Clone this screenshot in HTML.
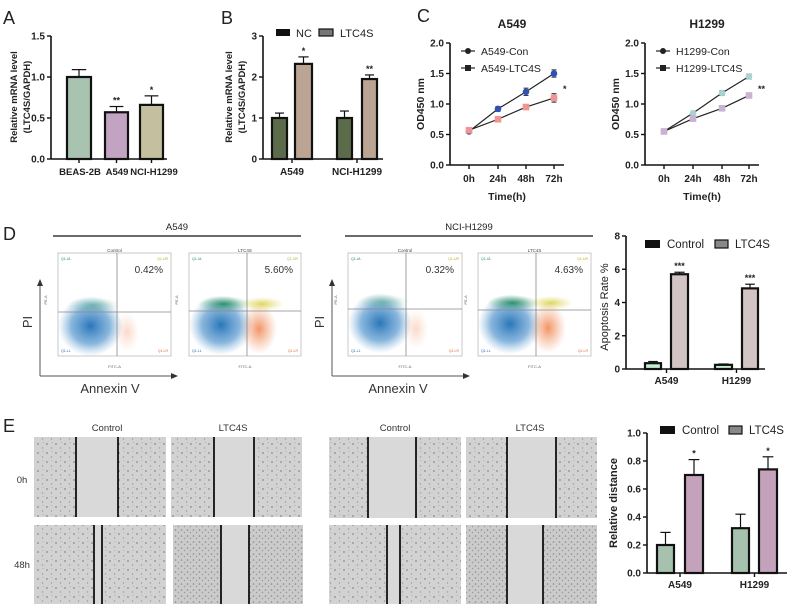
<!DOCTYPE html>
<html><head><meta charset="utf-8">
<style>
html,body{margin:0;padding:0;background:#fff;}
svg{display:block;font-family:"Liberation Sans",Arial,sans-serif;}
</style></head>
<body>
<svg id="fig" width="789" height="606" viewBox="0 0 789 606" xmlns="http://www.w3.org/2000/svg">
<defs>
<radialGradient id="blueCloud"><stop offset="0" stop-color="#1f6fb5" stop-opacity="0.95"/><stop offset="0.6" stop-color="#3b86c6" stop-opacity="0.6"/><stop offset="1" stop-color="#6aa6d8" stop-opacity="0"/></radialGradient>
<radialGradient id="greenCloud"><stop offset="0" stop-color="#1e8a5a" stop-opacity="0.9"/><stop offset="1" stop-color="#50a878" stop-opacity="0"/></radialGradient>
<radialGradient id="yellowCloud"><stop offset="0" stop-color="#d8d040" stop-opacity="0.85"/><stop offset="1" stop-color="#e0d860" stop-opacity="0"/></radialGradient>
<radialGradient id="orangeCloud"><stop offset="0" stop-color="#f07a40" stop-opacity="0.8"/><stop offset="1" stop-color="#f09060" stop-opacity="0"/></radialGradient>
<pattern id="cells" width="9" height="9" patternUnits="userSpaceOnUse"><rect width="9" height="9" fill="#d2d2d2"/><circle cx="2" cy="3" r="0.9" fill="#8a8a8a"/><circle cx="6.5" cy="7" r="0.7" fill="#9a9a9a"/><circle cx="7" cy="1.5" r="0.5" fill="#a5a5a5"/></pattern>
<pattern id="cellsDense" width="6" height="6" patternUnits="userSpaceOnUse"><rect width="6" height="6" fill="#cbcbcb"/><circle cx="1.5" cy="2" r="0.8" fill="#888"/><circle cx="4.5" cy="4.5" r="0.7" fill="#999"/></pattern>
</defs>
<g id="root"></g>
</svg>
<script>
// ---------- DATA ----------
const aCats = ["BEAS-2B","A549","NCI-H1299"];
const aVals = [1.0, 0.57, 0.66];
const aErr = [0.09, 0.07, 0.11];
const aSig = ["", "**", "*"];
const aTicks = ["0.0","0.5","1.0","1.5"];

const bCats = ["A549","NCI-H1299"];
const bNC = [1.0, 1.0];
const bNCerr = [0.12, 0.17];
const bLTC = [2.32, 1.95];
const bLTCerr = [0.17, 0.1];
const bSig = ["*","**"];
const bTicks = ["0","1","2","3"];

const cTimes = ["0h","24h","48h","72h"];
const cA549Con = [0.55, 0.92, 1.2, 1.5];
const cA549ConErr = [0.03, 0.04, 0.06, 0.06];
const cA549LTC = [0.57, 0.75, 0.95, 1.1];
const cA549LTCErr = [0.02, 0.02, 0.04, 0.07];
const cH1299Con = [0.55, 0.85, 1.18, 1.45];
const cH1299ConErr = [0.02, 0.03, 0.04, 0.04];
const cH1299LTC = [0.55, 0.76, 0.93, 1.14];
const cH1299LTCErr = [0.02, 0.02, 0.04, 0.03];
const cTicks = ["0.0","0.5","1.0","1.5","2.0"];

const dCats = ["A549","H1299"];
const dCtrl = [0.35, 0.25];
const dCtrlErr = [0.1, 0.05];
const dLTC = [5.7, 4.85];
const dLTCErr = [0.12, 0.25];
const dTicks = ["0","2","4","6","8"];
const flowLabels = ["0.42%","5.60%","0.32%","4.63%"];

const eCats = ["A549","H1299"];
const eCtrl = [0.2, 0.32];
const eCtrlErr = [0.09, 0.1];
const eLTC = [0.7, 0.74];
const eLTCErr = [0.11, 0.09];
const eTicks = ["0.0","0.2","0.4","0.6","0.8","1.0"];

// ---------- HELPERS ----------
const NS = "http://www.w3.org/2000/svg";
const root = document.getElementById("root");
function el(tag, attrs, parent, text){
  const e = document.createElementNS(NS, tag);
  for (const k in attrs) e.setAttribute(k, attrs[k]);
  if (text !== undefined) e.textContent = text;
  (parent || root).appendChild(e);
  return e;
}
function txt(x,y,s,size,opts,parent){
  const o = Object.assign({x:x,y:y,"font-size":size,fill:"#222"}, opts||{});
  return el("text", o, parent, s);
}
function linY(v0,v1,p0,p1){ return v => p0 + (v-v0)/(v1-v0)*(p1-p0); }

function yAxis(g, x, yFn, ticks, vals, size){
  const ax = el("line",{x1:x,y1:yFn(vals[vals.length-1]),x2:x,y2:yFn(vals[0]),stroke:"#111","stroke-width":1.6},g);
  
  
  ticks.forEach((t,i)=>{
    const y = yFn(vals[i]);
    el("line",{x1:x-4,y1:y,x2:x,y2:y,stroke:"#111","stroke-width":1.4},g);
    const tl = txt(x-6,y+3.5,t,size,{"text-anchor":"end","font-weight":"bold"},g);
    
    
  });
}
function bar(g, x0, x1, v, err, yFn, fill, sig){
  const y = yFn(v), y0 = yFn(0);
  const r = el("rect",{x:x0,y:y,width:x1-x0,height:y0-y,fill:fill,stroke:"#111","stroke-width":2.2},g);
  
  
  const cx = (x0+x1)/2, ye = yFn(v+err), w=(x1-x0)*0.3;
  el("line",{x1:cx,y1:y,x2:cx,y2:ye,stroke:"#111","stroke-width":1.2},g);
  el("line",{x1:cx-w,y1:ye,x2:cx+w,y2:ye,stroke:"#111","stroke-width":1.2},g);
  if (sig){
    const s = txt(cx,ye-3,sig,9,{"text-anchor":"middle","font-weight":"bold"},g);
    
    
  }
}
function rotText(x,y,s,size,opts,g){
  return txt(0,0,s,size,Object.assign({"text-anchor":"middle",transform:`translate(${x},${y}) rotate(-90)`},opts||{}),g);
}

// ---------- PANEL A ----------
(function(){
  const g = el("g",{});  
  txt(3,24,"A",18,{fill:"#222"},g);
  const yF = linY(0,1.5,159,36);
  yAxis(g,51,yF,aTicks,[0,0.5,1.0,1.5],10);
  el("line",{x1:51,y1:159,x2:167,y2:159,stroke:"#111","stroke-width":1.6},g);
  const xs = [[67,91],[105,128],[140,163]];
  const cols = ["#a8c3b0","#c2a3c2","#c3bf9f"];
  const lx = [80,117,154];
  aCats.forEach((c,i)=>{
    bar(g,xs[i][0],xs[i][1],aVals[i],aErr[i],yF,cols[i],aSig[i]);
    const cx=(xs[i][0]+xs[i][1])/2;
    el("line",{x1:cx,y1:159,x2:cx,y2:163,stroke:"#111","stroke-width":1.4},g);
    const l = txt(lx[i],175,c,9.5,{"text-anchor":"middle","font-weight":"bold"},g);
     
  });
  const t1 = rotText(17,97,"Relative mRNA level",9.5,{"font-weight":"bold"},g);
   
  rotText(30,97,"(LTC4S/GAPDH)",9.5,{"font-weight":"bold"},g);
})();

// ---------- PANEL B ----------
(function(){
  const g = el("g",{});  
  txt(221,24,"B",18,{},g);
  const yF = linY(0,3,159,36);
  yAxis(g,263,yF,bTicks,[0,1,2,3],10);
  el("line",{x1:263,y1:159,x2:383,y2:159,stroke:"#111","stroke-width":1.6},g);
  const nx=[[272,287],[337,352]], lx=[[295,312],[362,377]];
  bCats.forEach((c,i)=>{
    bar(g,nx[i][0],nx[i][1],bNC[i],bNCerr[i],yF,"#5c6c4b","");
    bar(g,lx[i][0],lx[i][1],bLTC[i],bLTCerr[i],yF,"#bba494",bSig[i]);
    const cx=(nx[i][0]+lx[i][1])/2;
    el("line",{x1:cx,y1:159,x2:cx,y2:163,stroke:"#111","stroke-width":1.4},g);
    const l = txt(cx,175,c,10,{"text-anchor":"middle","font-weight":"bold"},g);
     
  });
  const lg = el("g",{},g);  
  el("rect",{x:276,y:29,width:14,height:7,fill:"#111"},lg);
  txt(296,37,"NC",11,{},lg);
  el("rect",{x:319,y:29,width:14,height:7,fill:"#777",stroke:"#111","stroke-width":1.2},lg);
  txt(340,37,"LTC4S",11,{},lg);
  const t=rotText(232,97,"Relative mRNA level",9.5,{"font-weight":"bold"},g);
   
  rotText(245,97,"(LTC4S/GAPDH)",9.5,{"font-weight":"bold"},g);
})();

// ---------- PANEL C ----------
function lineChart(axX, tickXs, title, titleX, s1, e1, s2, e2, c1, c2, n1, n2, star, starY){
  const g = el("g",{});  
  const yF = linY(0,2,165,43);
  yAxis(g,axX,yF,cTicks,[0,0.5,1,1.5,2],10);
  el("line",{x1:axX,y1:165,x2:tickXs[3]+10,y2:165,stroke:"#111","stroke-width":1.6},g);
  cTimes.forEach((t,i)=>{
    el("line",{x1:tickXs[i],y1:165,x2:tickXs[i],y2:169,stroke:"#111","stroke-width":1.4},g);
    const l=txt(tickXs[i],182,t,10,{"text-anchor":"middle","font-weight":"bold"},g);
     
  });
  const tt=txt(titleX,28,title,12,{"text-anchor":"middle","font-weight":"bold"},g);
   
  const xt=txt((axX+tickXs[3]+10)/2,200,"Time(h)",10.5,{"text-anchor":"middle","font-weight":"bold"},g);
   
  const yt=rotText(axX-26,104,"OD450 nm",10.5,{"font-weight":"bold"},g);
   
  [[s1,e1,c1,"circle","series-con"],[s2,e2,c2,"square","series-ltc4s"]].forEach(([s,e,c,shape,nm])=>{
    const pts = s.map((v,i)=>tickXs[i]+","+yF(v)).join(" ");
    const pl = el("polyline",{points:pts,fill:"none",stroke:"#222","stroke-width":1.2},g);
     
    s.forEach((v,i)=>{
      const x=tickXs[i], y=yF(v);
      el("line",{x1:x,y1:yF(v-e[i]),x2:x,y2:yF(v+e[i]),stroke:"#333","stroke-width":1},g);
      el("line",{x1:x-2.5,y1:yF(v+e[i]),x2:x+2.5,y2:yF(v+e[i]),stroke:"#333","stroke-width":1},g);
      el("line",{x1:x-2.5,y1:yF(v-e[i]),x2:x+2.5,y2:yF(v-e[i]),stroke:"#333","stroke-width":1},g);
      const m = shape==="circle" ? el("circle",{cx:x,cy:y,r:3.3,fill:c},g) : el("rect",{x:x-3.3,y:y-3.3,width:6.6,height:6.6,fill:c},g);
       
    });
  });
  const lg=el("g",{},g);  
  const lx=axX+11;
  el("line",{x1:lx,y1:51,x2:lx+14,y2:51,stroke:"#222","stroke-width":1.2},lg);
  el("circle",{cx:lx+7,cy:51,r:3,fill:"#222"},lg);
  txt(lx+20,55,n1,10.5,{},lg);
  el("line",{x1:lx,y1:68,x2:lx+14,y2:68,stroke:"#222","stroke-width":1.2},lg);
  el("rect",{x:lx+4,y:65,width:6,height:6,fill:"#222"},lg);
  txt(lx+20,72,n2,10.5,{},lg);
  const st=txt(tickXs[3]+9,starY,star,9,{"font-weight":"bold"},g);
   
}
txt(417,22,"C",18,{});
lineChart(450,[469,498,526,554],"A549",512,cA549Con,cA549ConErr,cA549LTC,cA549LTCErr,"#2f50b4","#f29494","A549-Con","A549-LTC4S","*",92);
lineChart(645,[664,693,722,749],"H1299",707,cH1299Con,cH1299ConErr,cH1299LTC,cH1299LTCErr,"#a6d4d2","#c9b2d2","H1299-Con","H1299-LTC4S","**",92);

// ---------- PANEL D: flow plots ----------
txt(3,240,"D",18,{});
function header(x0,x1,label){
  el("line",{x1:x0,y1:236,x2:x1,y2:236,stroke:"#111","stroke-width":1.2});
  const t=txt((x0+x1)/2,230,label,9.5,{"text-anchor":"middle"});
   
}
header(53,301,"A549"); header(345,593,"NCI-H1299");
function flowPlot(x0,x1,qx,qy,label,pct,treated){
  const y0=253,y1=356;
  const g=el("g",{});  
  el("rect",{x:x0,y:y0,width:x1-x0,height:y1-y0,fill:"#fff",stroke:"#bbb","stroke-width":0.8},g);
  el("ellipse",{cx:x0+(qx-x0)*0.55,cy:qy+14,rx:(qx-x0)*0.55,ry:30,fill:"url(#blueCloud)"},g);
  el("ellipse",{cx:x0+(qx-x0)*0.6,cy:qy-7,rx:(qx-x0)*0.45,ry:8,fill:"url(#greenCloud)","opacity":treated?1:0.45},g);
  if(treated){
    el("ellipse",{cx:qx+15,cy:qy-7,rx:22,ry:7,fill:"url(#yellowCloud)"},g);
    el("ellipse",{cx:qx+12,cy:qy+18,rx:18,ry:25,fill:"url(#orangeCloud)"},g);
  } else {
    el("ellipse",{cx:qx+10,cy:qy+20,rx:12,ry:20,fill:"url(#orangeCloud)",opacity:0.35},g);
  }
  el("line",{x1:qx,y1:y0,x2:qx,y2:y1,stroke:"#888","stroke-width":0.8},g);
  el("line",{x1:x0,y1:qy,x2:x1,y2:qy,stroke:"#888","stroke-width":0.8},g);
  txt((x0+x1)/2,252,label,4.5,{"text-anchor":"middle","fill":"#444"},g);
  txt(x0+3,260,"Q1-UL",3.5,{"fill":"#2a8a5a"},g);
  txt(x1-3,260,"Q1-UR",3.5,{"fill":"#b8b030","text-anchor":"end"},g);
  txt(x0+3,352,"Q1-LL",3.5,{"fill":"#2a70b0"},g);
  txt(x1-3,352,"Q1-LR",3.5,{"fill":"#e07040","text-anchor":"end"},g);
  const p=txt(x1-8,273,pct,10,{"text-anchor":"end","fill":"#333"},g);
   
  txt((x0+x1)/2,368,"FITC-A",4,{"text-anchor":"middle","fill":"#666"},g);
  rotText(x0-11,300,"PE-A",4,{"fill":"#666"},g);
}
flowPlot(58,171,117,312,"Control",flowLabels[0],false);
flowPlot(189,301,247,311,"LTC4S",flowLabels[1],true);
flowPlot(348,462,406,309,"Control",flowLabels[2],false);
flowPlot(478,591,536,310,"LTC4S",flowLabels[3],true);
function arrows(ax,ex,cx){
  el("line",{x1:ax,y1:376,x2:ax,y2:285,stroke:"#555","stroke-width":1});
  el("polygon",{points:`${ax-3},286 ${ax+3},286 ${ax},279`,fill:"#333"});
  el("line",{x1:ax,y1:376,x2:ex,y2:376,stroke:"#555","stroke-width":1});
  el("polygon",{points:`${ex},373 ${ex},379 ${ex+7},376`,fill:"#333"});
  const p=rotText(ax-8,322,"PI",13,{"fill":"#333"});
   
  const a=txt(cx,393,"Annexin V",13,{"text-anchor":"middle","fill":"#333"});
   
}
arrows(40,171,110); arrows(332,463,398);

// ---------- grouped bar chart helper (D & E) ----------
function groupChart(opts){
  const g=el("g",{});  
  const yF=linY(0,opts.max,opts.y0,opts.yTop);
  yAxis(g,opts.ax,yF,opts.ticks,opts.tickVals,10);
  el("line",{x1:opts.ax,y1:opts.y0,x2:opts.axEnd,y2:opts.y0,stroke:"#111","stroke-width":1.6},g);
  opts.cats.forEach((c,i)=>{
    bar(g,opts.cx[i][0],opts.cx[i][1],opts.ctrl[i],opts.ctrlErr[i],yF,opts.c1,"");
    bar(g,opts.lx[i][0],opts.lx[i][1],opts.ltc[i],opts.ltcErr[i],yF,opts.c2,opts.sig);
    const cx=(opts.cx[i][0]+opts.lx[i][1])/2;
    el("line",{x1:cx,y1:opts.y0,x2:cx,y2:opts.y0+4,stroke:"#111","stroke-width":1.4},g);
    const l=txt(cx,opts.y0+15,c,10,{"text-anchor":"middle","font-weight":"bold"},g);
     
  });
  const lg=el("g",{},g);  
  el("rect",{x:opts.lg[0],y:opts.lgY-4,width:15,height:8,fill:"#111"},lg);
  txt(opts.lg[0]+22,opts.lgY+4,"Control",11.5,{},lg);
  el("rect",{x:opts.lg[1],y:opts.lgY-4,width:13,height:8,fill:"#888",stroke:"#111","stroke-width":1.2},lg);
  txt(opts.lg[1]+20,opts.lgY+4,"LTC4S",11.5,{},lg);
  const yt=rotText(opts.ytx,opts.yty,opts.ytitle,11,opts.ytBold?{"font-weight":"bold"}:{},g);
   
}
groupChart({name:"apoptosis-rate-chart",cats:dCats,ctrl:dCtrl,ctrlErr:dCtrlErr,ltc:dLTC,ltcErr:dLTCErr,
  max:8,y0:369,yTop:236,ax:626,axEnd:765,ticks:dTicks,tickVals:[0,2,4,6,8],
  cx:[[645,661],[715,732]],lx:[[671,688],[742,758]],c1:"#c6ecd2",c2:"#d3c4c4",sig:"***",
  lg:[645,715],lgY:244,ytitle:"Apoptosis Rate %",ytx:608,yty:307,ytBold:false});

// ---------- PANEL E: wound images ----------
txt(3,432,"E",18,{});
[["Control",107],["LTC4S",233],["Control",395],["LTC4S",530]].forEach(([s,x])=>{
  const t=txt(x,431,s,9.5,{"text-anchor":"middle","fill":"#333"});
   
});
const r0=txt(22,483,"0h",9.5,{"text-anchor":"middle","fill":"#333"});  
const r1=txt(22,568,"48h",9.5,{"text-anchor":"middle","fill":"#333"});  
function wound(x0,x1,y0,y1,l1,l2,dense){
  const g=el("g",{});  
  el("rect",{x:x0,y:y0,width:x1-x0,height:y1-y0,fill:dense?"url(#cellsDense)":"url(#cells)"},g);
  el("rect",{x:l1,y:y0,width:l2-l1,height:y1-y0,fill:"#d9d9d9"},g);
  el("line",{x1:l1,y1:y0,x2:l1,y2:y1,stroke:"#111","stroke-width":1.8},g);
  el("line",{x1:l2,y1:y0,x2:l2,y2:y1,stroke:"#111","stroke-width":1.8},g);
}
wound(34,166,437,517,76,118,false);
wound(171,302,437,517,214,254,false);
wound(329,461,437,518,368,416,false);
wound(466,597,437,518,507,556,false);
wound(34,166,525,604,94,102,false);
wound(173,303,525,604,221,249,true);
wound(329,461,525,604,387,400,false);
wound(466,597,525,604,507,543,true);

groupChart({name:"relative-distance-chart",cats:eCats,ctrl:eCtrl,ctrlErr:eCtrlErr,ltc:eLTC,ltcErr:eLTCErr,
  max:1,y0:573,yTop:433,ax:647,axEnd:787,ticks:eTicks,tickVals:[0,0.2,0.4,0.6,0.8,1.0],
  cx:[[657,674],[732,749]],lx:[[685,703],[759,777]],c1:"#a6c2ae",c2:"#c4a2bc",sig:"*",
  lg:[660,729],lgY:430,ytitle:"Relative distance",ytx:617,yty:503,ytBold:true});
</script>
</body></html>
